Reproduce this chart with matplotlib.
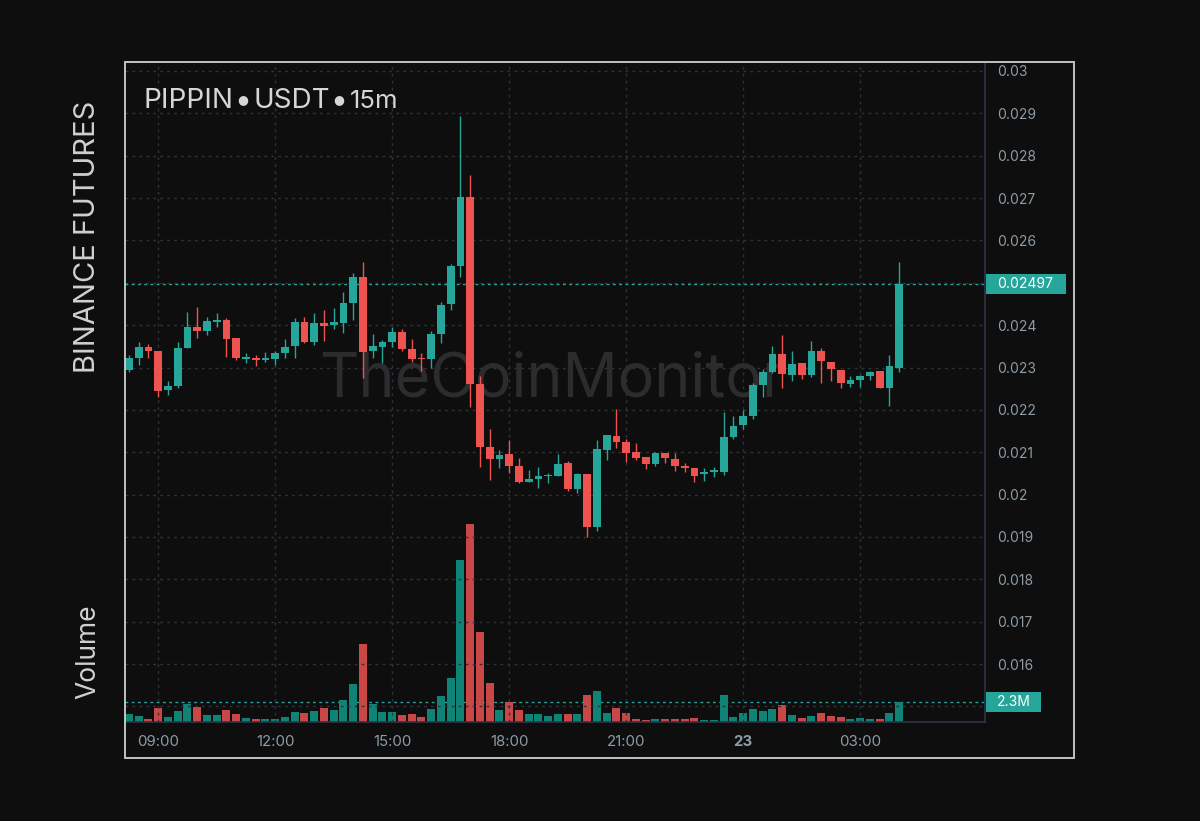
import matplotlib
matplotlib.use("Agg")
import matplotlib.pyplot as plt
from matplotlib.patches import Rectangle
import numpy as np

# ---------------- data ----------------
opens = [0.02294, 0.02323, 0.02348, 0.02340, 0.02247, 0.02256, 0.02347, 0.02396, 0.02386, 0.02408,
         0.02411, 0.02369, 0.02320, 0.02323, 0.02318, 0.02321, 0.02334, 0.02351, 0.02408, 0.02361,
         0.02406, 0.02400, 0.02404, 0.02452, 0.02514, 0.02339, 0.02349, 0.02361, 0.02385, 0.02344,
         0.02323, 0.02320, 0.02379, 0.02449, 0.02540, 0.02703, 0.02261, 0.02113, 0.02085, 0.02095,
         0.02068, 0.02030, 0.02036, 0.02043, 0.02045, 0.02074, 0.02013, 0.02049, 0.01923, 0.02105,
         0.02138, 0.02123, 0.02100, 0.02089, 0.02072, 0.02098, 0.02085, 0.02068, 0.02063, 0.02048,
         0.02053, 0.02054, 0.02135, 0.02164, 0.02186, 0.02259, 0.02290, 0.02333, 0.02282, 0.02310,
         0.02282, 0.02339, 0.02314, 0.02294, 0.02261, 0.02271, 0.02281, 0.02292, 0.02252, 0.02300]
highs = [0.02330, 0.02361, 0.02356, 0.02340, 0.02267, 0.02360, 0.02430, 0.02442, 0.02419, 0.02429,
         0.02416, 0.02369, 0.02334, 0.02330, 0.02336, 0.02339, 0.02367, 0.02416, 0.02419, 0.02428,
         0.02436, 0.02440, 0.02479, 0.02524, 0.02550, 0.02378, 0.02365, 0.02395, 0.02390, 0.02367,
         0.02335, 0.02386, 0.02455, 0.02544, 0.02894, 0.02754, 0.02280, 0.02156, 0.02105, 0.02130,
         0.02086, 0.02058, 0.02066, 0.02050, 0.02096, 0.02080, 0.02052, 0.02049, 0.02129, 0.02140,
         0.02201, 0.02131, 0.02121, 0.02089, 0.02100, 0.02098, 0.02099, 0.02074, 0.02063, 0.02062,
         0.02066, 0.02196, 0.02186, 0.02200, 0.02264, 0.02296, 0.02351, 0.02377, 0.02339, 0.02310,
         0.02363, 0.02345, 0.02314, 0.02294, 0.02280, 0.02282, 0.02292, 0.02292, 0.02330, 0.02550]
lows = [0.02290, 0.02306, 0.02323, 0.02230, 0.02235, 0.02251, 0.02347, 0.02369, 0.02377, 0.02395,
        0.02326, 0.02318, 0.02311, 0.02304, 0.02312, 0.02306, 0.02323, 0.02322, 0.02357, 0.02353,
        0.02363, 0.02391, 0.02382, 0.02411, 0.02275, 0.02322, 0.02311, 0.02349, 0.02339, 0.02314,
        0.02292, 0.02298, 0.02357, 0.02436, 0.02514, 0.02206, 0.02066, 0.02034, 0.02062, 0.02050,
        0.02027, 0.02030, 0.02015, 0.02027, 0.02045, 0.02009, 0.02003, 0.01901, 0.01915, 0.02082,
        0.02109, 0.02078, 0.02082, 0.02060, 0.02068, 0.02074, 0.02056, 0.02054, 0.02029, 0.02033,
        0.02041, 0.02046, 0.02131, 0.02156, 0.02178, 0.02230, 0.02286, 0.02251, 0.02267, 0.02272,
        0.02277, 0.02264, 0.02268, 0.02252, 0.02253, 0.02255, 0.02271, 0.02251, 0.02209, 0.02290]
closes = [0.02323, 0.02348, 0.02340, 0.02245, 0.02256, 0.02347, 0.02395, 0.02387, 0.02410, 0.02412,
          0.02367, 0.02322, 0.02325, 0.02318, 0.02323, 0.02334, 0.02349, 0.02408, 0.02361, 0.02404,
          0.02398, 0.02408, 0.02452, 0.02514, 0.02337, 0.02351, 0.02361, 0.02385, 0.02343, 0.02321,
          0.02320, 0.02379, 0.02448, 0.02540, 0.02703, 0.02261, 0.02113, 0.02083, 0.02093, 0.02068,
          0.02030, 0.02036, 0.02044, 0.02047, 0.02072, 0.02013, 0.02048, 0.01923, 0.02108, 0.02140,
          0.02123, 0.02099, 0.02087, 0.02073, 0.02098, 0.02086, 0.02068, 0.02062, 0.02045, 0.02054,
          0.02058, 0.02135, 0.02163, 0.02186, 0.02259, 0.02290, 0.02331, 0.02284, 0.02308, 0.02282,
          0.02339, 0.02315, 0.02296, 0.02263, 0.02271, 0.02281, 0.02290, 0.02251, 0.02304, 0.02497]
volumes_m = [0.87, 0.64, 0.38, 1.62, 0.53, 1.25, 2.00, 1.66, 0.79, 0.79,
             1.32, 0.94, 0.42, 0.38, 0.34, 0.34, 0.57, 1.17, 1.06, 1.25,
             1.55, 1.36, 2.45, 4.27, 8.87, 2.04, 1.10, 1.13, 0.79, 0.87,
             0.60, 1.47, 2.95, 4.95, 18.35, 22.40, 10.16, 4.42, 1.36, 2.23,
             1.32, 0.87, 0.91, 0.68, 0.91, 0.87, 0.87, 3.02, 3.47, 0.98,
             1.62, 1.02, 0.38, 0.23, 0.30, 0.30, 0.38, 0.38, 0.45, 0.23,
             0.23, 3.02, 0.60, 1.06, 1.47, 1.28, 1.47, 1.93, 0.76, 0.42,
             0.72, 0.98, 0.72, 0.57, 0.38, 0.42, 0.34, 0.30, 0.98, 2.30]

time_ticks = ["09:00", "12:00", "15:00", "18:00", "21:00", "23", "03:00"]
time_tick_idx = [3, 15, 27, 39, 51, 63, 75]
price_ticks = [0.015, 0.016, 0.017, 0.018, 0.019, 0.020, 0.021, 0.022, 0.023, 0.024,
               0.025, 0.026, 0.027, 0.028, 0.029, 0.030]
price_tick_labels = ["", "0.016", "0.017", "0.018", "0.019", "0.02", "0.021", "0.022", "0.023",
                     "0.024", "", "0.026", "0.027", "0.028", "0.029", "0.03"]
last_price = 0.02497
last_price_label = "0.02497"
last_volume_label = "2.3M"
title_parts = ["PIPPIN", "USDT", "15m"]
exchange = "BINANCE FUTURES"
watermark = "TheCoinMonitor"

# ---------------- style ----------------
BG = "#0e0e0e"
GREEN = "#26a69a"
RED = "#ef5350"
VGREEN = "#0f8376"
VRED = "#c94747"
GRID = "#2f323b"
AXC = "#2f3445"
TXT = "#8d9ca6"
plt.rcParams["font.family"] = ["Inter", "DejaVu Sans"]

W, H = 1200, 821
fig = plt.figure(figsize=(W / 100, H / 100), dpi=100, facecolor=BG)

def fx(px):
    return px / W

def fy(py):
    return 1 - py / H

L, R, T, B = 125, 985, 62, 722
ax = fig.add_axes([fx(L), fy(B), fx(R - L), (B - T) / H])
ax.set_facecolor(BG)
ax2 = ax.twinx()
ax2.set_zorder(ax.get_zorder() - 1)
ax.patch.set_visible(False)
ax2.set_facecolor(BG)

x = np.arange(len(opens))
o = np.array(opens); c = np.array(closes); h = np.array(highs); lo = np.array(lows)
up = c >= o
colors = np.where(up, GREEN, RED)
vcolors = np.where(up, VGREEN, VRED)

# volume
vols = np.array(volumes_m) * 1e6
ax2.bar(x, vols, width=0.82, color=vcolors, edgecolor="none", zorder=2)
ax2.set_ylim(0, 74.8e6)
ax2.axhline(vols[-1], color=GREEN, lw=1.0, ls=(0, (2, 2.5)), zorder=1)
ax2.set_yticks([])
for s in ax2.spines.values():
    s.set_visible(False)

# candles
ax.vlines(x, lo, h, colors=colors, lw=1.0, zorder=3)
body_lo = np.minimum(o, c)
body_h = np.maximum(np.abs(c - o), 0.000012)
ax.bar(x, body_h, bottom=body_lo, width=0.78, color=colors, edgecolor="none", zorder=4)

ax.set_xlim(-0.41, 87.8)
ax.set_ylim(0.014632, 0.030212)

ax.axhline(last_price, color=GREEN, lw=1.0, ls=(0, (2, 2.5)), zorder=2)

# grid
ax.set_yticks(price_ticks)
ax.set_yticklabels(price_tick_labels)
ax.set_xticks(time_tick_idx)
ax.set_xticklabels(time_ticks)
ax.grid(True, color=GRID, lw=1.0, ls=(0, (2, 3)), zorder=0)
ax.set_axisbelow(True)
ax.yaxis.tick_right()
ax.tick_params(axis="y", length=0, pad=9, labelsize=10, labelcolor=TXT)
ax.tick_params(axis="x", length=0, pad=9, labelsize=10.8, labelcolor=TXT)
for lab in ax.get_xticklabels():
    if lab.get_text() == "23":
        lab.set_fontweight("bold")
for k, s in ax.spines.items():
    if k in ("right", "bottom"):
        s.set_color(AXC)
        s.set_linewidth(1.2)
    else:
        s.set_visible(False)

# watermark
ax.text(0.497, 0.518, watermark, transform=ax.transAxes, fontsize=44, color="#2c2c2f",
        ha="center", va="center", zorder=1)

# title: parts separated by larger bullets
fig.canvas.draw()
renderer = fig.canvas.get_renderer()
cx = 143
sizes = [20, 20, 18.5]
for k, part in enumerate(title_parts):
    t = fig.text(fx(cx), fy(101), part, fontsize=sizes[k], color="#d6d6d6",
                 ha="left", va="center")
    bb = t.get_window_extent(renderer)
    cx = bb.x1 + 4
    if k < len(title_parts) - 1:
        fig.text(fx(cx), fy(100), "\u25CF", fontsize=9, color="#d6d6d6",
                 ha="left", va="center", family=["DejaVu Sans"])
        cx += 16

# left vertical labels
fig.text(fx(88), fy(237), exchange, fontsize=21, color="#d0d0d0", rotation=90,
         ha="center", va="center")
fig.text(fx(88), fy(652), "Volume", fontsize=19, color="#d0d0d0", rotation=90,
         ha="center", va="center")

# price label boxes
fig.patches.append(Rectangle((fx(986), fy(294)), fx(80), 20 / H, transform=fig.transFigure,
                             facecolor=GREEN, edgecolor="none"))
fig.text(fx(997), fy(284), last_price_label, fontsize=10, color="white", ha="left", va="center")
fig.patches.append(Rectangle((fx(986), fy(712)), fx(55), 20 / H, transform=fig.transFigure,
                             facecolor=GREEN, edgecolor="none"))
fig.text(fx(997), fy(702), last_volume_label, fontsize=10, color="white", ha="left", va="center")

# outer frame
fig.patches.append(Rectangle((fx(125), fy(758)), fx(949), 696 / H, transform=fig.transFigure,
                             facecolor="none", edgecolor="#cfcfcf", lw=1.3))

fig.savefig("out.png", dpi=100, facecolor=BG)
